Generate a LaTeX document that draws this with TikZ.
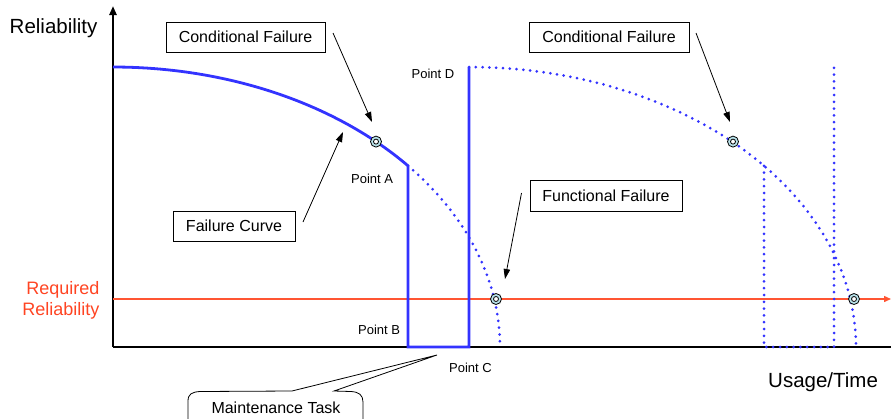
\documentclass[tikz,border=0pt]{standalone}
\usepackage{fontspec}
\setmainfont{Liberation Sans}
\usetikzlibrary{arrows.meta}
\definecolor{curveblue}{HTML}{3333FF}
\definecolor{reqred}{HTML}{FF5533}
\definecolor{reqtext}{HTML}{FF4422}
\definecolor{markfill}{HTML}{B8E2EA}
\begin{document}
\begin{tikzpicture}[x=1pt,y=-1pt,
  axisline/.style={line width=2.4pt, black},
  solidblue/.style={line width=2.8pt, curveblue, line join=miter},
  dotblue/.style={line width=3pt, curveblue, dash pattern=on 0pt off 6.8pt, line cap=round},
  reqline/.style={line width=1.4pt, draw=reqred},
  labelbox/.style={draw=black, line width=0.8pt, fill=white, inner sep=0pt,
    font=\fontsize{16}{18}\selectfont, minimum height=30pt},
  pointlabel/.style={font=\fontsize{13}{15}\selectfont, inner sep=0pt, anchor=base west},
  biglabel/.style={font=\fontsize{20.5}{24}\selectfont, inner sep=0pt, anchor=base west},
  reqlabel/.style={font=\fontsize{18}{21}\selectfont, text=reqtext, inner sep=0pt, anchor=base east},
  pointer/.style={line width=0.8pt, black, -{Triangle[length=10pt,width=6.5pt]}},
  callout/.style={draw=black, line width=0.8pt, fill=white},
  marker/.style={circle, draw=black, line width=0.8pt, fill=markfill, minimum size=11pt, inner sep=0pt},
  markercore/.style={circle, draw=black, line width=0.8pt, fill=white, minimum size=5pt, inner sep=0pt}
]
\useasboundingbox (0,0) rectangle (891,418);
\clip (0,0) rectangle (891,418);

% key coordinates
\coordinate (O) at (113,347);
\coordinate (Ytop) at (113,6);
\coordinate (Xend) at (891,347);
\coordinate (Rstart) at (113,299);
\coordinate (Rend) at (891,299);
\coordinate (A) at (408,165.8);
\coordinate (B) at (408,347);
\coordinate (C) at (469,347);
\coordinate (D) at (469,67);
\coordinate (A2) at (764,165.8);
\coordinate (B2) at (764,347);
\coordinate (C2) at (834,347);
\coordinate (D2) at (834,67);

% axes
\draw[axisline] (O) -- (Xend);
\draw[axisline, -{Triangle[length=9pt,width=7pt]}] (O) -- (Ytop);

% required reliability line
\draw[reqline, -{Triangle[length=7pt,width=6pt,fill=reqred]}] (Rstart) -- (Rend);

% first failure curve (solid until point A) and maintenance step
\draw[solidblue] plot[domain=90:40.33, samples=50] ({113+387*cos(\x)},{347-280*sin(\x)})
  -- (B) -- (C) -- (D);
\draw[dotblue] plot[domain=40.33:0, samples=40] ({113+387*cos(\x)},{347-280*sin(\x)});

% second (projected) curve
\draw[dotblue] plot[domain=90:0, samples=80] ({469+387*cos(\x)},{347-280*sin(\x)});
\draw[dotblue] (A2) -- (B2) -- (C2) -- (D2);

% markers
\foreach \n/\p in {m1/{(376,141.6)}, m2/{(733,141.6)}, m3/{(496,299)}, m4/{(854,299)}}{
  \node[marker] (\n) at \p {};
  \node[markercore] at (\n.center) {};
}

% axis labels
\node[biglabel] (ylab) at (9.5,33) {Reliability};
\node[biglabel] (xlab) at (768,387) {Usage/Time};
\node[reqlabel] (req1) at (99.5,294) {Required};
\node[reqlabel] (req2) at (99.5,315.5) {Reliability};

% point labels
\node[pointlabel] (pA) at (351,183) {Point A};
\node[pointlabel] (pB) at (358,334) {Point B};
\node[pointlabel] (pC) at (449,372) {Point C};
\node[pointlabel] (pD) at (411.5,78) {Point D};

% boxes
\node[labelbox, minimum width=159pt] (cf1) at (245.5,37) {Conditional Failure};
\node[labelbox, minimum width=160pt] (cf2) at (609,37) {Conditional Failure};
\node[labelbox, minimum width=152pt, minimum height=31pt] (ff) at (606,195.5) {Functional Failure};
\node[labelbox, minimum width=122pt] (fc) at (234,226) {Failure Curve};

% pointer arrows
\coordinate (s1) at (333,33);   \coordinate (t1) at (372,122);
\coordinate (s2) at (696,33);   \coordinate (t2) at (730,122);
\coordinate (s3) at (521.5,193); \coordinate (t3) at (505,279);
\coordinate (s4) at (303,222);  \coordinate (t4) at (343,132);
\draw[pointer] (s1) -- (t1);
\draw[pointer] (s2) -- (t2);
\draw[pointer] (s3) -- (t3);
\draw[pointer] (s4) -- (t4);

% maintenance task callout
\coordinate (mtip) at (437,355);
\draw[callout] (188,430) -- (188,401) .. controls (188,394) and (192,392) .. (200,391.5)
  -- (292,391) -- (mtip) -- (334,391) -- (351,391.5)
  .. controls (359,392) and (363,395) .. (363,402) -- (363,430);
\node[font=\fontsize{16}{18}\selectfont, inner sep=0pt] (mt) at (276,407.5) {Maintenance Task};
\end{tikzpicture}
\end{document}
